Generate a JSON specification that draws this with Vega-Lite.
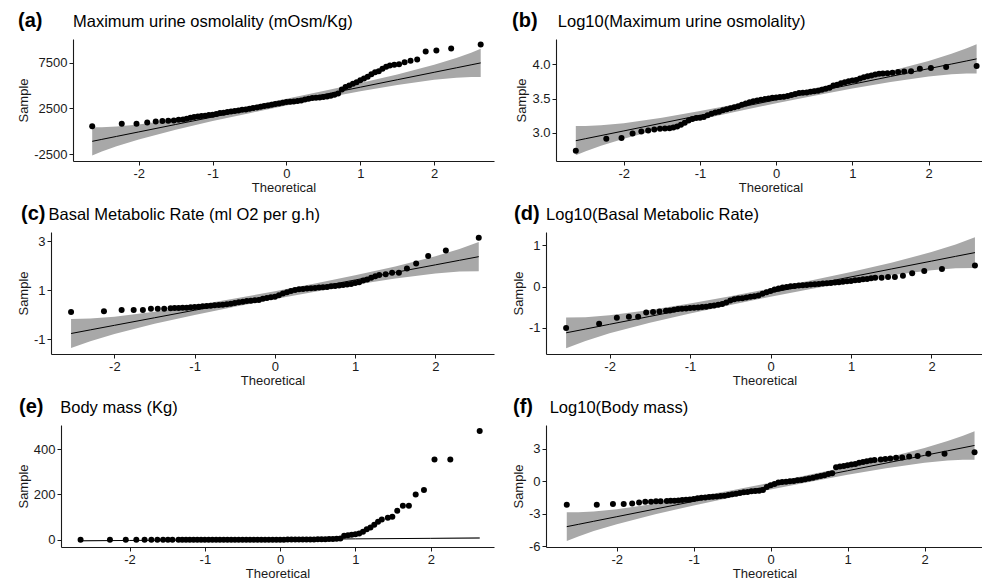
{
"$schema": "https://vega.github.io/schema/vega-lite/v6.json",
"padding": {"left": 11, "top": 11, "right": 0, "bottom": 0},
"background": "white",
"config": {
  "font": "Liberation Sans",
  "locale": {"number": {"decimal": ".", "thousands": ",", "grouping": [3], "currency": ["$", ""], "minus": "-"}},
  "view": {"stroke": null},
  "axis": {"grid": false, "domainColor": "#1a1a1a", "domainWidth": 1.1, "tickColor": "#1a1a1a", "tickSize": 4, "tickWidth": 1, "labelFontSize": 13, "labelColor": "#1a1a1a", "labelPadding": 2, "titleFontSize": 13, "titleFontWeight": "normal", "titleColor": "#1a1a1a", "titlePadding": 3},
  "axisX": {"titlePadding": 1},
  "title": {"anchor": "start", "frame": "group", "fontSize": 20, "fontWeight": "bold", "color": "#000", "subtitleFontSize": 16.5, "subtitleColor": "#000", "subtitlePadding": -17, "offset": 8}
},
"datasets": {
"pts": [
{"p":"a","x":-2.63,"y":543},{"p":"a","x":-2.23,"y":833},{"p":"a","x":-2.03,"y":833},{"p":"a","x":-1.885,"y":977},{"p":"a","x":-1.77,"y":1086},{"p":"a","x":-1.68,"y":1122},{"p":"a","x":-1.6,"y":1158},{"p":"a","x":-1.525,"y":1195},{"p":"a","x":-1.46,"y":1250},
{"p":"a","x":-1.4,"y":1304},{"p":"a","x":-1.35,"y":1377},{"p":"a","x":-1.3,"y":1485},{"p":"a","x":-1.25,"y":1558},{"p":"a","x":-1.2,"y":1630},{"p":"a","x":-1.15,"y":1667},{"p":"a","x":-1.1,"y":1703},{"p":"a","x":-1.05,"y":1775},{"p":"a","x":-1,"y":1812},{"p":"a","x":-0.95,"y":1884},{"p":"a","x":-0.9,"y":1993},{"p":"a","x":-0.85,"y":2029},{"p":"a","x":-0.8,"y":2101},{"p":"a","x":-0.75,"y":2174},{"p":"a","x":-0.7,"y":2210},{"p":"a","x":-0.65,"y":2283},{"p":"a","x":-0.6,"y":2355},{"p":"a","x":-0.55,"y":2391},{"p":"a","x":-0.5,"y":2464},{"p":"a","x":-0.45,"y":2536},{"p":"a","x":-0.4,"y":2609},{"p":"a","x":-0.35,"y":2681},{"p":"a","x":-0.3,"y":2753},{"p":"a","x":-0.25,"y":2826},{"p":"a","x":-0.2,"y":2898},{"p":"a","x":-0.15,"y":2971},{"p":"a","x":-0.1,"y":3043},{"p":"a","x":-0.05,"y":3116},{"p":"a","x":0,"y":3188},{"p":"a","x":0.05,"y":3224},{"p":"a","x":0.1,"y":3261},{"p":"a","x":0.15,"y":3297},{"p":"a","x":0.2,"y":3369},{"p":"a","x":0.25,"y":3478},{"p":"a","x":0.3,"y":3551},{"p":"a","x":0.35,"y":3623},{"p":"a","x":0.4,"y":3659},{"p":"a","x":0.45,"y":3695},{"p":"a","x":0.5,"y":3732},{"p":"a","x":0.55,"y":3804},{"p":"a","x":0.6,"y":3877},{"p":"a","x":0.65,"y":3985},{"p":"a","x":0.7,"y":4130},{"p":"a","x":0.75,"y":4565},{"p":"a","x":0.8,"y":4819},{"p":"a","x":0.85,"y":5000},{"p":"a","x":0.9,"y":5181},{"p":"a","x":0.95,"y":5362},{"p":"a","x":1,"y":5579},{"p":"a","x":1.05,"y":5760},{"p":"a","x":1.1,"y":5942},{"p":"a","x":1.15,"y":6232},{"p":"a","x":1.2,"y":6449},{"p":"a","x":1.25,"y":6558},{"p":"a","x":1.3,"y":6811},{"p":"a","x":1.35,"y":7029},{"p":"a","x":1.4,"y":7174},
{"p":"a","x":1.46,"y":7246},{"p":"a","x":1.525,"y":7319},{"p":"a","x":1.6,"y":7536},{"p":"a","x":1.68,"y":7681},{"p":"a","x":1.77,"y":7826},{"p":"a","x":1.885,"y":8695},{"p":"a","x":2.03,"y":8804},{"p":"a","x":2.23,"y":9021},{"p":"a","x":2.63,"y":9456},

{"p":"b","x":-2.63,"y":2.739},{"p":"b","x":-2.23,"y":2.916},{"p":"b","x":-2.03,"y":2.926},{"p":"b","x":-1.885,"y":2.99},{"p":"b","x":-1.77,"y":3.02},{"p":"b","x":-1.68,"y":3.034},{"p":"b","x":-1.6,"y":3.049},{"p":"b","x":-1.525,"y":3.059},{"p":"b","x":-1.46,"y":3.064},
{"p":"b","x":-1.4,"y":3.069},{"p":"b","x":-1.35,"y":3.079},{"p":"b","x":-1.3,"y":3.094},{"p":"b","x":-1.25,"y":3.118},{"p":"b","x":-1.2,"y":3.148},{"p":"b","x":-1.15,"y":3.182},{"p":"b","x":-1.1,"y":3.202},{"p":"b","x":-1.05,"y":3.217},{"p":"b","x":-1,"y":3.222},{"p":"b","x":-0.95,"y":3.232},{"p":"b","x":-0.9,"y":3.256},{"p":"b","x":-0.85,"y":3.281},{"p":"b","x":-0.8,"y":3.296},{"p":"b","x":-0.75,"y":3.31},{"p":"b","x":-0.7,"y":3.33},{"p":"b","x":-0.65,"y":3.345},{"p":"b","x":-0.6,"y":3.36},{"p":"b","x":-0.55,"y":3.374},{"p":"b","x":-0.5,"y":3.389},{"p":"b","x":-0.45,"y":3.409},{"p":"b","x":-0.4,"y":3.429},{"p":"b","x":-0.35,"y":3.448},{"p":"b","x":-0.3,"y":3.463},{"p":"b","x":-0.25,"y":3.473},{"p":"b","x":-0.2,"y":3.483},{"p":"b","x":-0.15,"y":3.493},{"p":"b","x":-0.1,"y":3.502},{"p":"b","x":-0.05,"y":3.512},{"p":"b","x":0,"y":3.517},{"p":"b","x":0.05,"y":3.522},{"p":"b","x":0.1,"y":3.527},{"p":"b","x":0.15,"y":3.537},{"p":"b","x":0.2,"y":3.552},{"p":"b","x":0.25,"y":3.567},{"p":"b","x":0.3,"y":3.581},{"p":"b","x":0.35,"y":3.586},{"p":"b","x":0.4,"y":3.591},{"p":"b","x":0.45,"y":3.601},{"p":"b","x":0.5,"y":3.606},{"p":"b","x":0.55,"y":3.616},{"p":"b","x":0.6,"y":3.631},{"p":"b","x":0.65,"y":3.645},{"p":"b","x":0.7,"y":3.66},{"p":"b","x":0.75,"y":3.69},{"p":"b","x":0.8,"y":3.704},{"p":"b","x":0.85,"y":3.724},{"p":"b","x":0.9,"y":3.739},{"p":"b","x":0.95,"y":3.754},{"p":"b","x":1,"y":3.764},{"p":"b","x":1.05,"y":3.773},{"p":"b","x":1.1,"y":3.793},{"p":"b","x":1.15,"y":3.813},{"p":"b","x":1.2,"y":3.828},{"p":"b","x":1.25,"y":3.837},{"p":"b","x":1.3,"y":3.852},{"p":"b","x":1.35,"y":3.862},{"p":"b","x":1.4,"y":3.867},
{"p":"b","x":1.46,"y":3.872},{"p":"b","x":1.525,"y":3.877},{"p":"b","x":1.6,"y":3.887},{"p":"b","x":1.68,"y":3.897},{"p":"b","x":1.77,"y":3.901},{"p":"b","x":1.885,"y":3.936},{"p":"b","x":2.03,"y":3.946},{"p":"b","x":2.23,"y":3.961},{"p":"b","x":2.63,"y":3.975},

{"p":"c","x":-2.54,"y":0.109},{"p":"c","x":-2.13,"y":0.137},{"p":"c","x":-1.91,"y":0.191},{"p":"c","x":-1.76,"y":0.191},{"p":"c","x":-1.645,"y":0.191},{"p":"c","x":-1.545,"y":0.246},{"p":"c","x":-1.46,"y":0.246},{"p":"c","x":-1.38,"y":0.246},
{"p":"c","x":-1.3,"y":0.259},{"p":"c","x":-1.25,"y":0.273},{"p":"c","x":-1.2,"y":0.273},{"p":"c","x":-1.15,"y":0.287},{"p":"c","x":-1.1,"y":0.287},{"p":"c","x":-1.05,"y":0.3},{"p":"c","x":-1,"y":0.314},{"p":"c","x":-0.95,"y":0.328},{"p":"c","x":-0.9,"y":0.341},{"p":"c","x":-0.85,"y":0.355},{"p":"c","x":-0.8,"y":0.369},{"p":"c","x":-0.75,"y":0.382},{"p":"c","x":-0.7,"y":0.396},{"p":"c","x":-0.65,"y":0.41},{"p":"c","x":-0.6,"y":0.423},{"p":"c","x":-0.55,"y":0.451},{"p":"c","x":-0.5,"y":0.478},{"p":"c","x":-0.45,"y":0.505},{"p":"c","x":-0.4,"y":0.532},{"p":"c","x":-0.35,"y":0.56},{"p":"c","x":-0.3,"y":0.573},{"p":"c","x":-0.25,"y":0.587},{"p":"c","x":-0.2,"y":0.601},{"p":"c","x":-0.15,"y":0.655},{"p":"c","x":-0.1,"y":0.683},{"p":"c","x":-0.05,"y":0.71},{"p":"c","x":0,"y":0.737},{"p":"c","x":0.05,"y":0.792},{"p":"c","x":0.1,"y":0.86},{"p":"c","x":0.15,"y":0.915},{"p":"c","x":0.2,"y":0.969},{"p":"c","x":0.25,"y":1.01},{"p":"c","x":0.3,"y":1.038},{"p":"c","x":0.35,"y":1.051},{"p":"c","x":0.4,"y":1.065},{"p":"c","x":0.45,"y":1.079},{"p":"c","x":0.5,"y":1.092},{"p":"c","x":0.55,"y":1.106},{"p":"c","x":0.6,"y":1.119},{"p":"c","x":0.65,"y":1.133},{"p":"c","x":0.7,"y":1.16},{"p":"c","x":0.75,"y":1.174},{"p":"c","x":0.8,"y":1.188},{"p":"c","x":0.85,"y":1.215},{"p":"c","x":0.9,"y":1.229},{"p":"c","x":0.95,"y":1.256},{"p":"c","x":1,"y":1.297},{"p":"c","x":1.05,"y":1.324},{"p":"c","x":1.1,"y":1.392},{"p":"c","x":1.15,"y":1.433},{"p":"c","x":1.2,"y":1.502},{"p":"c","x":1.25,"y":1.57},{"p":"c","x":1.3,"y":1.62},
{"p":"c","x":1.38,"y":1.652},{"p":"c","x":1.46,"y":1.706},{"p":"c","x":1.545,"y":1.706},{"p":"c","x":1.645,"y":1.884},{"p":"c","x":1.76,"y":2.089},{"p":"c","x":1.91,"y":2.389},{"p":"c","x":2.13,"y":2.621},{"p":"c","x":2.54,"y":3.14},

{"p":"d","x":-2.54,"y":-1.0},{"p":"d","x":-2.13,"y":-0.896},{"p":"d","x":-1.91,"y":-0.752},{"p":"d","x":-1.76,"y":-0.728},{"p":"d","x":-1.645,"y":-0.728},{"p":"d","x":-1.545,"y":-0.624},{"p":"d","x":-1.46,"y":-0.616},{"p":"d","x":-1.38,"y":-0.6},
{"p":"d","x":-1.3,"y":-0.584},{"p":"d","x":-1.25,"y":-0.576},{"p":"d","x":-1.2,"y":-0.56},{"p":"d","x":-1.15,"y":-0.544},{"p":"d","x":-1.1,"y":-0.536},{"p":"d","x":-1.05,"y":-0.528},{"p":"d","x":-1,"y":-0.52},{"p":"d","x":-0.95,"y":-0.512},{"p":"d","x":-0.9,"y":-0.504},{"p":"d","x":-0.85,"y":-0.496},{"p":"d","x":-0.8,"y":-0.488},{"p":"d","x":-0.75,"y":-0.472},{"p":"d","x":-0.7,"y":-0.456},{"p":"d","x":-0.65,"y":-0.44},{"p":"d","x":-0.6,"y":-0.424},{"p":"d","x":-0.55,"y":-0.384},{"p":"d","x":-0.5,"y":-0.336},{"p":"d","x":-0.45,"y":-0.304},{"p":"d","x":-0.4,"y":-0.288},{"p":"d","x":-0.35,"y":-0.28},{"p":"d","x":-0.3,"y":-0.264},{"p":"d","x":-0.25,"y":-0.248},{"p":"d","x":-0.2,"y":-0.232},{"p":"d","x":-0.15,"y":-0.216},{"p":"d","x":-0.1,"y":-0.176},{"p":"d","x":-0.05,"y":-0.136},{"p":"d","x":0,"y":-0.104},{"p":"d","x":0.05,"y":-0.072},{"p":"d","x":0.1,"y":-0.048},{"p":"d","x":0.15,"y":-0.024},{"p":"d","x":0.2,"y":-0.008},{"p":"d","x":0.25,"y":0.008},{"p":"d","x":0.3,"y":0.016},{"p":"d","x":0.35,"y":0.024},{"p":"d","x":0.4,"y":0.032},{"p":"d","x":0.45,"y":0.04},{"p":"d","x":0.5,"y":0.048},{"p":"d","x":0.55,"y":0.056},{"p":"d","x":0.6,"y":0.064},{"p":"d","x":0.65,"y":0.072},{"p":"d","x":0.7,"y":0.08},{"p":"d","x":0.75,"y":0.088},{"p":"d","x":0.8,"y":0.096},{"p":"d","x":0.85,"y":0.104},{"p":"d","x":0.9,"y":0.12},{"p":"d","x":0.95,"y":0.128},{"p":"d","x":1,"y":0.136},{"p":"d","x":1.05,"y":0.152},{"p":"d","x":1.1,"y":0.16},{"p":"d","x":1.15,"y":0.176},{"p":"d","x":1.2,"y":0.184},{"p":"d","x":1.25,"y":0.2},{"p":"d","x":1.3,"y":0.216},
{"p":"d","x":1.38,"y":0.216},{"p":"d","x":1.46,"y":0.232},{"p":"d","x":1.545,"y":0.232},{"p":"d","x":1.645,"y":0.264},{"p":"d","x":1.76,"y":0.32},{"p":"d","x":1.91,"y":0.376},{"p":"d","x":2.13,"y":0.424},{"p":"d","x":2.54,"y":0.512},

{"p":"e","x":-2.65,"y":0.0068},{"p":"e","x":-2.26,"y":0.0068},{"p":"e","x":-2.05,"y":0.0078},{"p":"e","x":-1.91,"y":0.0078},{"p":"e","x":-1.8,"y":0.0089},{"p":"e","x":-1.71,"y":0.011},{"p":"e","x":-1.63,"y":0.013},{"p":"e","x":-1.555,"y":0.013},{"p":"e","x":-1.49,"y":0.014},{"p":"e","x":-1.43,"y":0.014},
{"p":"e","x":-1.35,"y":0.015},{"p":"e","x":-1.3,"y":0.016},{"p":"e","x":-1.25,"y":0.016},{"p":"e","x":-1.2,"y":0.017},{"p":"e","x":-1.15,"y":0.018},{"p":"e","x":-1.1,"y":0.019},{"p":"e","x":-1.05,"y":0.021},{"p":"e","x":-1,"y":0.022},{"p":"e","x":-0.95,"y":0.026},{"p":"e","x":-0.9,"y":0.03},{"p":"e","x":-0.85,"y":0.032},{"p":"e","x":-0.8,"y":0.035},{"p":"e","x":-0.75,"y":0.037},{"p":"e","x":-0.7,"y":0.04},{"p":"e","x":-0.65,"y":0.043},{"p":"e","x":-0.6,"y":0.046},{"p":"e","x":-0.55,"y":0.054},{"p":"e","x":-0.5,"y":0.062},{"p":"e","x":-0.45,"y":0.071},{"p":"e","x":-0.4,"y":0.081},{"p":"e","x":-0.35,"y":0.095},{"p":"e","x":-0.3,"y":0.1},{"p":"e","x":-0.25,"y":0.12},{"p":"e","x":-0.2,"y":0.13},{"p":"e","x":-0.15,"y":0.13},{"p":"e","x":-0.1,"y":0.15},{"p":"e","x":-0.05,"y":0.3},{"p":"e","x":0,"y":0.43},{"p":"e","x":0.05,"y":0.56},{"p":"e","x":0.1,"y":0.76},{"p":"e","x":0.15,"y":0.87},{"p":"e","x":0.2,"y":0.93},{"p":"e","x":0.25,"y":1.0},{"p":"e","x":0.3,"y":1.07},{"p":"e","x":0.35,"y":1.23},{"p":"e","x":0.4,"y":1.32},{"p":"e","x":0.45,"y":1.55},{"p":"e","x":0.5,"y":1.78},{"p":"e","x":0.55,"y":2.19},{"p":"e","x":0.6,"y":2.69},{"p":"e","x":0.65,"y":3.16},{"p":"e","x":0.7,"y":3.63},{"p":"e","x":0.75,"y":4.8},{"p":"e","x":0.8,"y":5.6},{"p":"e","x":0.85,"y":18},{"p":"e","x":0.9,"y":20},{"p":"e","x":0.95,"y":22},{"p":"e","x":1,"y":24},{"p":"e","x":1.05,"y":28},{"p":"e","x":1.1,"y":35},{"p":"e","x":1.15,"y":46},{"p":"e","x":1.2,"y":54},{"p":"e","x":1.25,"y":66},{"p":"e","x":1.3,"y":80},{"p":"e","x":1.35,"y":90},
{"p":"e","x":1.43,"y":97},{"p":"e","x":1.49,"y":102},{"p":"e","x":1.555,"y":128},{"p":"e","x":1.63,"y":150},{"p":"e","x":1.71,"y":150},{"p":"e","x":1.8,"y":200},{"p":"e","x":1.91,"y":220},{"p":"e","x":2.05,"y":355},{"p":"e","x":2.26,"y":355},{"p":"e","x":2.65,"y":480},

{"p":"f","x":-2.65,"y":-2.17},{"p":"f","x":-2.26,"y":-2.17},{"p":"f","x":-2.05,"y":-2.11},{"p":"f","x":-1.91,"y":-2.11},{"p":"f","x":-1.8,"y":-2.05},{"p":"f","x":-1.71,"y":-1.96},{"p":"f","x":-1.63,"y":-1.89},{"p":"f","x":-1.555,"y":-1.89},{"p":"f","x":-1.49,"y":-1.86},{"p":"f","x":-1.43,"y":-1.86},
{"p":"f","x":-1.35,"y":-1.82},{"p":"f","x":-1.3,"y":-1.8},{"p":"f","x":-1.25,"y":-1.8},{"p":"f","x":-1.2,"y":-1.77},{"p":"f","x":-1.15,"y":-1.74},{"p":"f","x":-1.1,"y":-1.71},{"p":"f","x":-1.05,"y":-1.68},{"p":"f","x":-1,"y":-1.65},{"p":"f","x":-0.95,"y":-1.58},{"p":"f","x":-0.9,"y":-1.52},{"p":"f","x":-0.85,"y":-1.49},{"p":"f","x":-0.8,"y":-1.46},{"p":"f","x":-0.75,"y":-1.43},{"p":"f","x":-0.7,"y":-1.4},{"p":"f","x":-0.65,"y":-1.37},{"p":"f","x":-0.6,"y":-1.34},{"p":"f","x":-0.55,"y":-1.27},{"p":"f","x":-0.5,"y":-1.21},{"p":"f","x":-0.45,"y":-1.15},{"p":"f","x":-0.4,"y":-1.09},{"p":"f","x":-0.35,"y":-1.02},{"p":"f","x":-0.3,"y":-0.99},{"p":"f","x":-0.25,"y":-0.93},{"p":"f","x":-0.2,"y":-0.9},{"p":"f","x":-0.15,"y":-0.87},{"p":"f","x":-0.1,"y":-0.81},{"p":"f","x":-0.05,"y":-0.53},{"p":"f","x":0,"y":-0.37},{"p":"f","x":0.05,"y":-0.25},{"p":"f","x":0.1,"y":-0.12},{"p":"f","x":0.15,"y":-0.06},{"p":"f","x":0.2,"y":-0.03},{"p":"f","x":0.25,"y":0},{"p":"f","x":0.3,"y":0.03},{"p":"f","x":0.35,"y":0.09},{"p":"f","x":0.4,"y":0.12},{"p":"f","x":0.45,"y":0.19},{"p":"f","x":0.5,"y":0.25},{"p":"f","x":0.55,"y":0.34},{"p":"f","x":0.6,"y":0.43},{"p":"f","x":0.65,"y":0.5},{"p":"f","x":0.7,"y":0.56},{"p":"f","x":0.75,"y":0.68},{"p":"f","x":0.8,"y":0.75},{"p":"f","x":0.85,"y":1.3},{"p":"f","x":0.9,"y":1.37},{"p":"f","x":0.95,"y":1.43},{"p":"f","x":1,"y":1.49},{"p":"f","x":1.05,"y":1.55},{"p":"f","x":1.1,"y":1.61},{"p":"f","x":1.15,"y":1.71},{"p":"f","x":1.2,"y":1.8},{"p":"f","x":1.25,"y":1.86},{"p":"f","x":1.3,"y":1.92},{"p":"f","x":1.35,"y":1.98},
{"p":"f","x":1.43,"y":2.02},{"p":"f","x":1.49,"y":2.06},{"p":"f","x":1.555,"y":2.12},{"p":"f","x":1.63,"y":2.18},{"p":"f","x":1.71,"y":2.2},{"p":"f","x":1.8,"y":2.3},{"p":"f","x":1.91,"y":2.34},{"p":"f","x":2.05,"y":2.55},{"p":"f","x":2.26,"y":2.55},{"p":"f","x":2.65,"y":2.7}
],
"band": [
{"p":"a","x":-2.63,"lo":-2626,"hi":454,"fit":-1086},{"p":"a","x":-2.5,"lo":-2201,"hi":451,"fit":-875},{"p":"a","x":-2.3,"lo":-1625,"hi":525,"fit":-550},{"p":"a","x":-2,"lo":-881,"hi":755,"fit":-63},{"p":"a","x":-1.5,"lo":179,"hi":1319,"fit":749},{"p":"a","x":-1,"lo":1114,"hi":2008,"fit":1561},{"p":"a","x":-0.5,"lo":1985,"hi":2761,"fit":2373},{"p":"a","x":0,"lo":2814,"hi":3556,"fit":3185},{"p":"a","x":0.5,"lo":3609,"hi":4385,"fit":3997},{"p":"a","x":1,"lo":4362,"hi":5256,"fit":4809},{"p":"a","x":1.5,"lo":5051,"hi":6191,"fit":5621},{"p":"a","x":2,"lo":5615,"hi":7251,"fit":6433},{"p":"a","x":2.3,"lo":5845,"hi":7995,"fit":6920},{"p":"a","x":2.5,"lo":5919,"hi":8571,"fit":7245},{"p":"a","x":2.63,"lo":5916,"hi":8996,"fit":7456},
{"p":"b","x":-2.63,"lo":2.673,"hi":3.099,"fit":2.886},{"p":"b","x":-2.5,"lo":2.732,"hi":3.1,"fit":2.916},{"p":"b","x":-2.3,"lo":2.812,"hi":3.11,"fit":2.961},{"p":"b","x":-2,"lo":2.916,"hi":3.142,"fit":3.029},{"p":"b","x":-1.5,"lo":3.064,"hi":3.222,"fit":3.143},{"p":"b","x":-1,"lo":3.194,"hi":3.318,"fit":3.256},{"p":"b","x":-0.5,"lo":3.316,"hi":3.424,"fit":3.37},{"p":"b","x":0,"lo":3.432,"hi":3.534,"fit":3.483},{"p":"b","x":0.5,"lo":3.542,"hi":3.65,"fit":3.596},{"p":"b","x":1,"lo":3.648,"hi":3.772,"fit":3.71},{"p":"b","x":1.5,"lo":3.744,"hi":3.902,"fit":3.823},{"p":"b","x":2,"lo":3.824,"hi":4.05,"fit":3.937},{"p":"b","x":2.3,"lo":3.856,"hi":4.154,"fit":4.005},{"p":"b","x":2.5,"lo":3.866,"hi":4.234,"fit":4.05},{"p":"b","x":2.63,"lo":3.867,"hi":4.293,"fit":4.08},
{"p":"c","x":-2.54,"lo":-1.359,"hi":-0.171,"fit":-0.765},{"p":"c","x":-2.3,"lo":-1.078,"hi":-0.156,"fit":-0.617},{"p":"c","x":-2,"lo":-0.783,"hi":-0.081,"fit":-0.432},{"p":"c","x":-1.5,"lo":-0.369,"hi":0.121,"fit":-0.124},{"p":"c","x":-1,"lo":-0.008,"hi":0.376,"fit":0.184},{"p":"c","x":-0.5,"lo":0.325,"hi":0.659,"fit":0.492},{"p":"c","x":0,"lo":0.641,"hi":0.959,"fit":0.8},{"p":"c","x":0.5,"lo":0.941,"hi":1.275,"fit":1.108},{"p":"c","x":1,"lo":1.224,"hi":1.608,"fit":1.416},{"p":"c","x":1.5,"lo":1.479,"hi":1.969,"fit":1.724},{"p":"c","x":2,"lo":1.681,"hi":2.383,"fit":2.032},{"p":"c","x":2.3,"lo":1.756,"hi":2.678,"fit":2.217},{"p":"c","x":2.54,"lo":1.771,"hi":2.959,"fit":2.365},
{"p":"d","x":-2.54,"lo":-1.488,"hi":-0.748,"fit":-1.118},{"p":"d","x":-2.3,"lo":-1.314,"hi":-0.74,"fit":-1.027},{"p":"d","x":-2,"lo":-1.13,"hi":-0.694,"fit":-0.912},{"p":"d","x":-1.5,"lo":-0.873,"hi":-0.569,"fit":-0.721},{"p":"d","x":-1,"lo":-0.649,"hi":-0.411,"fit":-0.53},{"p":"d","x":-0.5,"lo":-0.443,"hi":-0.235,"fit":-0.339},{"p":"d","x":0,"lo":-0.247,"hi":-0.049,"fit":-0.148},{"p":"d","x":0.5,"lo":-0.061,"hi":0.147,"fit":0.043},{"p":"d","x":1,"lo":0.115,"hi":0.353,"fit":0.234},{"p":"d","x":1.5,"lo":0.273,"hi":0.577,"fit":0.425},{"p":"d","x":2,"lo":0.398,"hi":0.834,"fit":0.616},{"p":"d","x":2.3,"lo":0.444,"hi":1.018,"fit":0.731},{"p":"d","x":2.54,"lo":0.452,"hi":1.192,"fit":0.822},
{"p":"e","x":-2.65,"lo":-6.78,"hi":-2.42,"fit":-4.6},{"p":"e","x":-2,"lo":-4.21,"hi":-1.95,"fit":-3.08},{"p":"e","x":-1,"lo":-1.36,"hi":-0.12,"fit":-0.74},{"p":"e","x":0,"lo":1.09,"hi":2.11,"fit":1.6},{"p":"e","x":1,"lo":3.32,"hi":4.56,"fit":3.94},{"p":"e","x":2,"lo":5.15,"hi":7.41,"fit":6.28},{"p":"e","x":2.65,"lo":5.62,"hi":9.98,"fit":7.8},
{"p":"f","x":-2.65,"lo":-5.531,"hi":-2.875,"fit":-4.203},{"p":"f","x":-2.5,"lo":-5.11,"hi":-2.87,"fit":-3.99},{"p":"f","x":-2.3,"lo":-4.614,"hi":-2.798,"fit":-3.706},{"p":"f","x":-2,"lo":-3.971,"hi":-2.589,"fit":-3.28},{"p":"f","x":-1.5,"lo":-3.052,"hi":-2.088,"fit":-2.57},{"p":"f","x":-1,"lo":-2.238,"hi":-1.482,"fit":-1.86},{"p":"f","x":-0.5,"lo":-1.478,"hi":-0.822,"fit":-1.15},{"p":"f","x":0,"lo":-0.753,"hi":-0.127,"fit":-0.44},{"p":"f","x":0.5,"lo":-0.058,"hi":0.598,"fit":0.27},{"p":"f","x":1,"lo":0.602,"hi":1.358,"fit":0.98},{"p":"f","x":1.5,"lo":1.208,"hi":2.172,"fit":1.69},{"p":"f","x":2,"lo":1.709,"hi":3.091,"fit":2.4},{"p":"f","x":2.3,"lo":1.918,"hi":3.734,"fit":2.826},{"p":"f","x":2.5,"lo":1.99,"hi":4.23,"fit":3.11},{"p":"f","x":2.65,"lo":1.995,"hi":4.651,"fit":3.323}
]
},
"spacing": 10,
"vconcat": [
{"spacing": 18, "hconcat": [
{"spacing": 0, "hconcat": [
{"width": 6, "height": 122, "view": {"fill": "#ffffff", "stroke": null}, "data": {"values": []}, "mark": {"type": "point", "opacity": 0}, "encoding": {}},
{"width": 421, "height": 122,
 "title": {"text": "(a)", "subtitle": "\u200b\u00a0\u00a0\u00a0\u00a0\u00a0\u00a0\u00a0\u00a0\u00a0\u00a0\u00a0\u00a0Maximum urine osmolality (mOsm/Kg)", "dx": -55},
 "encoding": {"x": {"field": "x", "type": "quantitative", "title": "Theoretical", "scale": {"domain": [-2.89, 2.81], "nice": false, "zero": false}, "axis": {"values": [-2, -1, 0, 1, 2]}}},
 "layer": [
  {"data": {"name": "band"}, "transform": [{"filter": "datum.p === 'a'"}], "mark": {"type": "area", "color": "#a8a8a8", "opacity": 1},
   "encoding": {"y": {"field": "lo", "type": "quantitative", "title": "Sample", "scale": {"domain": [-3230, 10060], "nice": false, "zero": false}, "axis": {"values": [-2500, 0, 2500, 5000, 7500], "format": "d"}}, "y2": {"field": "hi"}}},
  {"data": {"name": "band"}, "transform": [{"filter": "datum.p === 'a'"}], "mark": {"type": "line", "color": "#000", "strokeWidth": 1},
   "encoding": {"y": {"field": "fit", "type": "quantitative", "title": "Sample", "scale": {"domain": [-3230, 10060], "nice": false, "zero": false}}}},
  {"data": {"name": "pts"}, "transform": [{"filter": "datum.p === 'a'"}], "mark": {"type": "circle", "size": 36, "color": "#000", "opacity": 1},
   "encoding": {"y": {"field": "y", "type": "quantitative", "title": "Sample", "scale": {"domain": [-3230, 10060], "nice": false, "zero": false}}}}
 ]}
]},
{"width": 429, "height": 122,
 "title": {"text": "(b)", "subtitle": "\u200b\u00a0\u00a0\u00a0\u00a0\u00a0\u00a0\u00a0\u00a0\u00a0\u00a0Log10(Maximum urine osmolality)", "dx": -44},
 "encoding": {"x": {"field": "x", "type": "quantitative", "title": "Theoretical", "scale": {"domain": [-2.89, 2.74], "nice": false, "zero": false}, "axis": {"values": [-2, -1, 0, 1, 2]}}},
 "layer": [
  {"data": {"name": "band"}, "transform": [{"filter": "datum.p === 'b'"}], "mark": {"type": "area", "color": "#a8a8a8", "opacity": 1},
   "encoding": {"y": {"field": "lo", "type": "quantitative", "title": "Sample", "scale": {"domain": [2.59, 4.37], "nice": false, "zero": false}, "axis": {"values": [3, 3.5, 4], "format": ".1f"}}, "y2": {"field": "hi"}}},
  {"data": {"name": "band"}, "transform": [{"filter": "datum.p === 'b'"}], "mark": {"type": "line", "color": "#000", "strokeWidth": 1},
   "encoding": {"y": {"field": "fit", "type": "quantitative", "title": "Sample", "scale": {"domain": [2.59, 4.37], "nice": false, "zero": false}}}},
  {"data": {"name": "pts"}, "transform": [{"filter": "datum.p === 'b'"}], "mark": {"type": "circle", "size": 36, "color": "#000", "opacity": 1},
   "encoding": {"y": {"field": "y", "type": "quantitative", "title": "Sample", "scale": {"domain": [2.59, 4.37], "nice": false, "zero": false}}}}
 ]}
]},
{"spacing": 18, "hconcat": [
{"spacing": 0, "hconcat": [
{"width": 6, "height": 122, "view": {"fill": "#ffffff", "stroke": null}, "data": {"values": []}, "mark": {"type": "point", "opacity": 0}, "encoding": {}},
{"width": 443, "height": 122,
 "title": {"text": "(c)", "subtitle": "\u200b\u00a0\u00a0\u00a0\u00a0\u00a0\u00a0Basal Metabolic Rate (ml O2 per g.h)", "dx": -30},
 "encoding": {"x": {"field": "x", "type": "quantitative", "title": "Theoretical", "scale": {"domain": [-2.79, 2.73], "nice": false, "zero": false}, "axis": {"values": [-2, -1, 0, 1, 2]}}},
 "layer": [
  {"data": {"name": "band"}, "transform": [{"filter": "datum.p === 'c'"}], "mark": {"type": "area", "color": "#a8a8a8", "opacity": 1},
   "encoding": {"y": {"field": "lo", "type": "quantitative", "title": "Sample", "scale": {"domain": [-1.6, 3.37], "nice": false, "zero": false}, "axis": {"values": [-1, 0, 1, 2, 3], "format": "d"}}, "y2": {"field": "hi"}}},
  {"data": {"name": "band"}, "transform": [{"filter": "datum.p === 'c'"}], "mark": {"type": "line", "color": "#000", "strokeWidth": 1},
   "encoding": {"y": {"field": "fit", "type": "quantitative", "title": "Sample", "scale": {"domain": [-1.6, 3.37], "nice": false, "zero": false}}}},
  {"data": {"name": "pts"}, "transform": [{"filter": "datum.p === 'c'"}], "mark": {"type": "circle", "size": 36, "color": "#000", "opacity": 1},
   "encoding": {"y": {"field": "y", "type": "quantitative", "title": "Sample", "scale": {"domain": [-1.6, 3.37], "nice": false, "zero": false}}}}
 ]}
]},
{"width": 437, "height": 122,
 "title": {"text": "(d)", "subtitle": "\u200b\u00a0\u00a0\u00a0\u00a0\u00a0\u00a0\u00a0Log10(Basal Metabolic Rate)", "dx": -32},
 "encoding": {"x": {"field": "x", "type": "quantitative", "title": "Theoretical", "scale": {"domain": [-2.79, 2.64], "nice": false, "zero": false}, "axis": {"values": [-2, -1, 0, 1, 2]}}},
 "layer": [
  {"data": {"name": "band"}, "transform": [{"filter": "datum.p === 'd'"}], "mark": {"type": "area", "color": "#a8a8a8", "opacity": 1},
   "encoding": {"y": {"field": "lo", "type": "quantitative", "title": "Sample", "scale": {"domain": [-1.63, 1.32], "nice": false, "zero": false}, "axis": {"values": [-1, 0, 1], "format": "d"}}, "y2": {"field": "hi"}}},
  {"data": {"name": "band"}, "transform": [{"filter": "datum.p === 'd'"}], "mark": {"type": "line", "color": "#000", "strokeWidth": 1},
   "encoding": {"y": {"field": "fit", "type": "quantitative", "title": "Sample", "scale": {"domain": [-1.63, 1.32], "nice": false, "zero": false}}}},
  {"data": {"name": "pts"}, "transform": [{"filter": "datum.p === 'd'"}], "mark": {"type": "circle", "size": 36, "color": "#000", "opacity": 1},
   "encoding": {"y": {"field": "y", "type": "quantitative", "title": "Sample", "scale": {"domain": [-1.63, 1.32], "nice": false, "zero": false}}}}
 ]}
]},
{"spacing": 18, "hconcat": [
{"spacing": 0, "hconcat": [
{"width": 6, "height": 122, "view": {"fill": "#ffffff", "stroke": null}, "data": {"values": []}, "mark": {"type": "point", "opacity": 0}, "encoding": {}},
{"width": 433, "height": 122,
 "title": {"text": "(e)", "subtitle": "\u200b\u00a0\u00a0\u00a0\u00a0\u00a0\u00a0\u00a0\u00a0\u00a0Body mass (Kg)", "dx": -42},
 "encoding": {"x": {"field": "x", "type": "quantitative", "title": "Theoretical", "scale": {"domain": [-2.91, 2.84], "nice": false, "zero": false}, "axis": {"values": [-2, -1, 0, 1, 2]}}},
 "layer": [
  {"data": {"name": "band"}, "transform": [{"filter": "datum.p === 'e'"}], "mark": {"type": "area", "color": "#a8a8a8", "opacity": 1},
   "encoding": {"y": {"field": "lo", "type": "quantitative", "title": "Sample", "scale": {"domain": [-32, 507], "nice": false, "zero": false}, "axis": {"values": [0, 100, 200, 300, 400, 500], "format": "d"}}, "y2": {"field": "hi"}}},
  {"data": {"name": "band"}, "transform": [{"filter": "datum.p === 'e'"}], "mark": {"type": "line", "color": "#000", "strokeWidth": 1},
   "encoding": {"y": {"field": "fit", "type": "quantitative", "title": "Sample", "scale": {"domain": [-32, 507], "nice": false, "zero": false}}}},
  {"data": {"name": "pts"}, "transform": [{"filter": "datum.p === 'e'"}], "mark": {"type": "circle", "size": 36, "color": "#000", "opacity": 1},
   "encoding": {"y": {"field": "y", "type": "quantitative", "title": "Sample", "scale": {"domain": [-32, 507], "nice": false, "zero": false}}}}
 ]}
]},
{"width": 437, "height": 122,
 "title": {"text": "(f)", "subtitle": "\u200b\u00a0\u00a0\u00a0\u00a0\u00a0\u00a0\u00a0\u00a0Log10(Body mass)", "dx": -33},
 "encoding": {"x": {"field": "x", "type": "quantitative", "title": "Theoretical", "scale": {"domain": [-2.92, 2.76], "nice": false, "zero": false}, "axis": {"values": [-2, -1, 0, 1, 2]}}},
 "layer": [
  {"data": {"name": "band"}, "transform": [{"filter": "datum.p === 'f'"}], "mark": {"type": "area", "color": "#a8a8a8", "opacity": 1},
   "encoding": {"y": {"field": "lo", "type": "quantitative", "title": "Sample", "scale": {"domain": [-6.09, 5.22], "nice": false, "zero": false}, "axis": {"values": [-6, -3, 0, 3], "format": "d"}}, "y2": {"field": "hi"}}},
  {"data": {"name": "band"}, "transform": [{"filter": "datum.p === 'f'"}], "mark": {"type": "line", "color": "#000", "strokeWidth": 1},
   "encoding": {"y": {"field": "fit", "type": "quantitative", "title": "Sample", "scale": {"domain": [-6.09, 5.22], "nice": false, "zero": false}}}},
  {"data": {"name": "pts"}, "transform": [{"filter": "datum.p === 'f'"}], "mark": {"type": "circle", "size": 36, "color": "#000", "opacity": 1},
   "encoding": {"y": {"field": "y", "type": "quantitative", "title": "Sample", "scale": {"domain": [-6.09, 5.22], "nice": false, "zero": false}}}}
 ]}
]}
]
}
